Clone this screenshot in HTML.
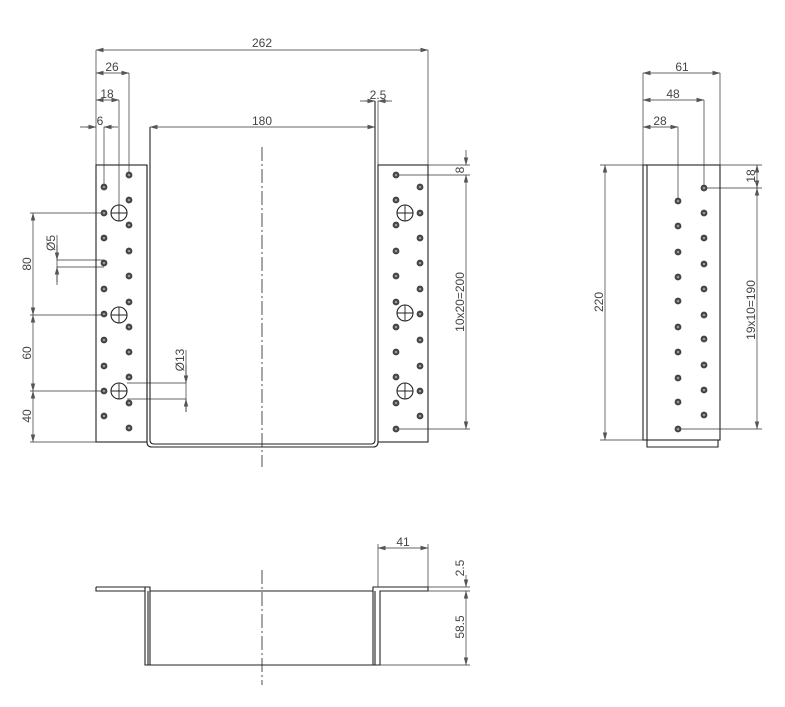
<!DOCTYPE html>
<html><head><meta charset="utf-8"><style>
html,body{margin:0;padding:0;background:#fff}
svg{display:block}
text{font-family:"Liberation Sans",sans-serif;font-size:12px;fill:#444}
</style></head><body>
<svg width="785" height="707" viewBox="0 0 785 707" xmlns="http://www.w3.org/2000/svg">
<defs>
<marker id="a" markerWidth="8" markerHeight="6" refX="7.5" refY="3" orient="auto-start-reverse" markerUnits="userSpaceOnUse"><path d="M0,0.8 L8,3 L0,5.2 Z" fill="#555"/></marker>
<g id="h"><circle r="3.4" fill="#444"/><circle r="1.3" fill="#999"/></g>
<g id="H"><circle r="8" fill="none" stroke="#222" stroke-width="1.1"/><path d="M-8,0H8M0,-8V8" stroke="#222" stroke-width="0.9"/></g>
</defs>
<g stroke="#222" stroke-width="1.1" fill="none">
<rect x="96" y="165" width="51" height="277"/>
<rect x="378" y="165" width="50" height="277"/>
<path d="M147,165 V442 Q147,447 152,447 H373 Q378,447 378,442"/>
<path d="M150,127 V440 Q150,444 154,444 H371 Q375,444 375,440 V101"/>
<path d="M262,147 V467" stroke-dasharray="14,3,2,3" stroke-width="0.8"/>
<g stroke-width="0.7" stroke="#333">
<path d="M96,50 V165 M428,50 V165 M129,73 V175 M119,100 V205 M104,127 V184 M378,101 V165"/>
<path d="M96,50 H428" marker-start="url(#a)" marker-end="url(#a)"/>
<path d="M96,73 H129" marker-start="url(#a)" marker-end="url(#a)"/>
<path d="M96,100 H119" marker-start="url(#a)" marker-end="url(#a)"/>
<path d="M80,127 H96 M104,127 H118" />
<path d="M86,127 H96" marker-end="url(#a)"/><path d="M114,127 H104" marker-end="url(#a)"/>
<path d="M150,127 H375" marker-start="url(#a)" marker-end="url(#a)"/>
<path d="M360,101 H375 M378,101 H392"/>
<path d="M365,101 H375" marker-end="url(#a)"/><path d="M388,101 H378" marker-end="url(#a)"/>
<path d="M30,213 H104 M30,315 H104 M30,391 H104 M30,442 H96"/>
<path d="M33,213 V315" marker-start="url(#a)" marker-end="url(#a)"/>
<path d="M33,315 V391" marker-start="url(#a)" marker-end="url(#a)"/>
<path d="M33,391 V442" marker-start="url(#a)" marker-end="url(#a)"/>
<path d="M57,260 H104 M57,267 H104 M57,235 V285"/>
<path d="M57,245 V260" marker-end="url(#a)"/><path d="M57,282 V267" marker-end="url(#a)"/>
<path d="M127,383 H186 M127,399 H186 M186,350 V412"/>
<path d="M186,365 V383" marker-end="url(#a)"/><path d="M186,412 V399" marker-end="url(#a)"/>
<path d="M428,165 H470 M396,175 H470 M396,429 H470"/>
<path d="M466,150 V165" marker-end="url(#a)"/><path d="M466,175 V429" marker-start="url(#a)" marker-end="url(#a)"/>
</g>
<rect x="643" y="165" width="77" height="275"/>
<path d="M647,165 V447 H718 V440"/>
<g stroke-width="0.7" stroke="#333">
<path d="M643,73 V165 M720,73 V165 M704,100 V188 M678,127 V201"/>
<path d="M643,73 H720" marker-start="url(#a)" marker-end="url(#a)"/>
<path d="M643,100 H704" marker-start="url(#a)" marker-end="url(#a)"/>
<path d="M643,127 H678" marker-start="url(#a)" marker-end="url(#a)"/>
<path d="M600,165 H643 M600,440 H643"/>
<path d="M605,165 V440" marker-start="url(#a)" marker-end="url(#a)"/>
<path d="M720,165 H762 M704,188 H762 M678,429 H762"/>
<path d="M757,165 V188" marker-start="url(#a)" marker-end="url(#a)"/>
<path d="M757,188 V429" marker-start="url(#a)" marker-end="url(#a)"/>
</g>
<path d="M96,587 H145 V665 H380 V591 H428 V587 H373 V591 H150 V591 M96,587 V591 H145"/>
<path d="M150,591 V665 M148,591 V665 M373,591 V665 M375,591 V665"/>
<path d="M145,587 H150 V591"/>
<path d="M262,570 V685" stroke-dasharray="14,3,2,3" stroke-width="0.8"/>
<g stroke-width="0.7" stroke="#333">
<path d="M378,544 V587 M428,544 V587 M428,587 H470 M428,591 H470 M380,665 H470"/>
<path d="M378,548 H428" marker-start="url(#a)" marker-end="url(#a)"/>
<path d="M466,575 V587" marker-end="url(#a)"/>
<path d="M466,591 V665" marker-start="url(#a)" marker-end="url(#a)"/>
</g>
</g>
<g>
<use href="#h" x="104" y="187"/><use href="#h" x="104" y="213"/><use href="#h" x="104" y="238"/><use href="#h" x="104" y="263"/><use href="#h" x="104" y="289"/><use href="#h" x="104" y="314"/><use href="#h" x="104" y="340"/><use href="#h" x="104" y="366"/><use href="#h" x="104" y="391"/><use href="#h" x="104" y="416"/>
<use href="#h" x="129" y="175"/><use href="#h" x="129" y="200"/><use href="#h" x="129" y="225"/><use href="#h" x="129" y="251"/><use href="#h" x="129" y="276"/><use href="#h" x="129" y="302"/><use href="#h" x="129" y="327"/><use href="#h" x="129" y="352"/><use href="#h" x="129" y="377"/><use href="#h" x="129" y="403"/><use href="#h" x="129" y="428"/>
<use href="#H" x="119" y="213"/><use href="#H" x="119" y="315"/><use href="#H" x="119" y="391"/>
<use href="#h" x="420" y="187"/><use href="#h" x="420" y="213"/><use href="#h" x="420" y="238"/><use href="#h" x="420" y="263"/><use href="#h" x="420" y="289"/><use href="#h" x="420" y="314"/><use href="#h" x="420" y="340"/><use href="#h" x="420" y="366"/><use href="#h" x="420" y="391"/><use href="#h" x="420" y="416"/>
<use href="#h" x="396" y="175"/><use href="#h" x="396" y="200"/><use href="#h" x="396" y="225"/><use href="#h" x="396" y="251"/><use href="#h" x="396" y="276"/><use href="#h" x="396" y="302"/><use href="#h" x="396" y="327"/><use href="#h" x="396" y="352"/><use href="#h" x="396" y="377"/><use href="#h" x="396" y="403"/><use href="#h" x="396" y="429"/>
<use href="#H" x="405" y="213"/><use href="#H" x="405" y="313"/><use href="#H" x="405" y="391"/>
<use href="#h" x="704" y="188"/><use href="#h" x="704" y="213"/><use href="#h" x="704" y="238"/><use href="#h" x="704" y="264"/><use href="#h" x="704" y="289"/><use href="#h" x="704" y="315"/><use href="#h" x="704" y="339"/><use href="#h" x="704" y="365"/><use href="#h" x="704" y="390"/><use href="#h" x="704" y="415"/>
<use href="#h" x="678" y="201"/><use href="#h" x="678" y="226"/><use href="#h" x="678" y="252"/><use href="#h" x="678" y="277"/><use href="#h" x="678" y="301"/><use href="#h" x="678" y="327"/><use href="#h" x="678" y="352"/><use href="#h" x="678" y="378"/><use href="#h" x="678" y="402"/><use href="#h" x="678" y="429"/>
</g>
<text x="262" y="47" text-anchor="middle">262</text>
<text x="112" y="71" text-anchor="middle">26</text>
<text x="107" y="98" text-anchor="middle">18</text>
<text x="100" y="125" text-anchor="middle">6</text>
<text x="262" y="125" text-anchor="middle">180</text>
<text x="378" y="99" text-anchor="middle">2.5</text>
<text transform="translate(31,264) rotate(-90)" text-anchor="middle">80</text>
<text transform="translate(31,353) rotate(-90)" text-anchor="middle">60</text>
<text transform="translate(31,416) rotate(-90)" text-anchor="middle">40</text>
<text transform="translate(55,243) rotate(-90)" text-anchor="middle">Ø5</text>
<text transform="translate(184,360) rotate(-90)" text-anchor="middle">Ø13</text>
<text transform="translate(464,170) rotate(-90)" text-anchor="middle">8</text>
<text transform="translate(464,302) rotate(-90)" text-anchor="middle">10x20=200</text>
<text x="682" y="71" text-anchor="middle">61</text>
<text x="673" y="98" text-anchor="middle">48</text>
<text x="660" y="125" text-anchor="middle">28</text>
<text transform="translate(603,302) rotate(-90)" text-anchor="middle">220</text>
<text transform="translate(755,176) rotate(-90)" text-anchor="middle">18</text>
<text transform="translate(755,310) rotate(-90)" text-anchor="middle">19x10=190</text>
<text x="403" y="546" text-anchor="middle">41</text>
<text transform="translate(464,568) rotate(-90)" text-anchor="middle">2.5</text>
<text transform="translate(464,627) rotate(-90)" text-anchor="middle">58.5</text>
</svg>
</body></html>
